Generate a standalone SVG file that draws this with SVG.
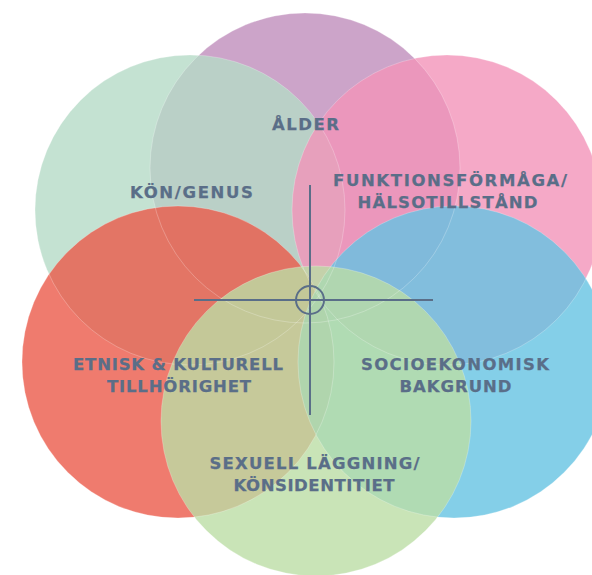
<svg xmlns="http://www.w3.org/2000/svg" width="592" height="575" viewBox="0 0 592 575">
<style>
.c{opacity:0.8}
.edge{fill:none;stroke:#ffffff;stroke-width:0.7;opacity:0.35}
.lbl{font-family:"DejaVu Sans","Liberation Sans",Arial,sans-serif;font-weight:bold;font-size:16.5px;fill:#5A6E88;stroke:#5A6E88;stroke-width:0.25}
.cross{stroke:#5A6E88;stroke-width:2;fill:none}
</style>
<rect width="592" height="575" fill="#ffffff"/>
<g id="circle-alder"><circle class="c" cx="305" cy="168" r="155" fill="#BF8DBB"/></g>
<g id="circle-kon"><circle class="c" cx="190" cy="210" r="155" fill="#B5DBC7"/></g>
<g id="circle-funktion"><circle class="c" cx="447" cy="210" r="155" fill="#F293B9"/></g>
<g id="circle-etnisk"><circle class="c" cx="178" cy="362" r="156" fill="#EB5A4A"/></g>
<g id="circle-socio"><circle class="c" cx="454" cy="362" r="156" fill="#65C3E2"/></g>
<g id="circle-sexuell"><circle class="c" cx="316" cy="421" r="155" fill="#BBDDA5"/></g>
<g id="edges">
<circle class="edge" cx="305" cy="168" r="155"/>
<circle class="edge" cx="190" cy="210" r="155"/>
<circle class="edge" cx="447" cy="210" r="155"/>
<circle class="edge" cx="178" cy="362" r="156"/>
<circle class="edge" cx="454" cy="362" r="156"/>
<circle class="edge" cx="316" cy="421" r="155"/>
</g>
<g id="connectors">
<line class="cross" x1="310" y1="185" x2="310" y2="415"/>
<line class="cross" x1="194" y1="300" x2="433" y2="300"/>
<circle class="cross" cx="310" cy="300" r="14"/>
</g>
<g id="labels">
<text class="lbl" x="272" y="130" textLength="67" lengthAdjust="spacing">ÅLDER</text>
<text class="lbl" x="130" y="197.5" textLength="123" lengthAdjust="spacing">KÖN/GENUS</text>
<text class="lbl" x="333" y="186" textLength="234" lengthAdjust="spacing">FUNKTIONSFÖRMÅGA/</text>
<text class="lbl" x="357.5" y="207.5" textLength="180" lengthAdjust="spacing">HÄLSOTILLSTÅND</text>
<text class="lbl" x="73" y="370" textLength="210" lengthAdjust="spacing">ETNISK &amp; KULTURELL</text>
<text class="lbl" x="107" y="391.7" textLength="144" lengthAdjust="spacing">TILLHÖRIGHET</text>
<text class="lbl" x="361" y="370" textLength="188" lengthAdjust="spacing">SOCIOEKONOMISK</text>
<text class="lbl" x="399.5" y="391.7" textLength="112" lengthAdjust="spacing">BAKGRUND</text>
<text class="lbl" x="209.5" y="469" textLength="210" lengthAdjust="spacing">SEXUELL LÄGGNING/</text>
<text class="lbl" x="233.5" y="490.7" textLength="161" lengthAdjust="spacing">KÖNSIDENTITIET</text>
</g>
</svg>
